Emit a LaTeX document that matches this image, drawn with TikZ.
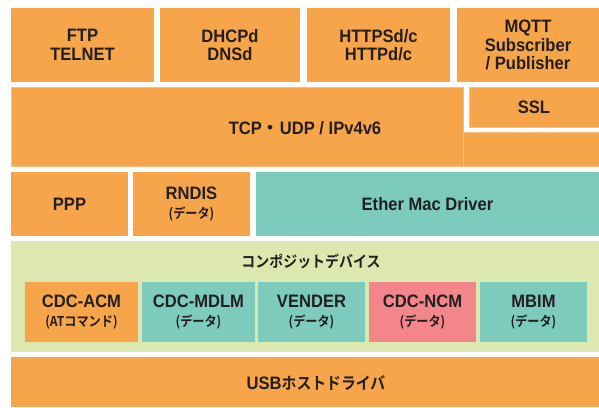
\documentclass[tikz,border=0pt]{standalone}
\usepackage{fontspec}
\setmainfont{Liberation Sans}[FakeStretch=0.92]
\newfontfamily\jp{Noto Sans CJK JP}[BoldFont={Noto Sans CJK JP Bold}]
\newfontfamily\jpn{Noto Sans CJK JP}[BoldFont={Noto Sans CJK JP Bold},FakeStretch=0.9]
\definecolor{orng}{HTML}{F7A54B}
\definecolor{orngl}{HTML}{F9BE80}
\definecolor{tealc}{HTML}{7DCBBD}
\definecolor{greenbg}{HTML}{DDE8B1}
\definecolor{pinkc}{HTML}{F3868A}
\definecolor{ink}{HTML}{231F20}
\newcommand{\sub}[1]{{\jpn\bfseries\fontsize{13.5}{15}\selectfont #1}}
\tikzset{
  box/.style={anchor=north west, inner sep=0pt, outer sep=0pt, align=center,
    text=ink, font=\bfseries\fontsize{18}{18.5}\selectfont},
  ob/.style={box, fill=orng},
  tb/.style={box, fill=tealc},
  pb/.style={box, fill=pinkc},
  gb/.style={box, fill=greenbg},
  lbl/.style={inner sep=0pt, text=ink, font=\bfseries\fontsize{18}{18.5}\selectfont},
  sz/.style 2 args={minimum width=#1pt, minimum height=#2pt}
}
\begin{document}
\begin{tikzpicture}[x=1pt,y=-1pt]
\useasboundingbox (0,0) rectangle (599,407);
% top row
\node[ob, sz={143}{74}] (ftp) at (11,8) {FTP\\TELNET};
\node[ob, sz={140}{74}] (dhcp) at (160,8) {DHCPd\\DNSd};
\node[ob, sz={143}{74}] (http) at (307,8) {HTTPSd/c\\HTTPd/c};
\node[ob, sz={142}{74}] (mqtt) at (457,8) {MQTT\\Subscriber\\/ Publisher};
% TCP / SSL
\node[ob, draw=orngl, line width=0.7pt, sz={452}{79}] (tcp) at (11,87) {};
\node[ob, draw=orngl, line width=0.7pt, sz={136}{34}] (tcpx) at (463,132) {};
\node[ob, draw=orngl, line width=0.7pt, sz={130}{40}] (ssl) at (469,87) {SSL};
\node[lbl] (tcpt) at (305,128) {TCP{\jp\bfseries ・}UDP / IPv4v6};
% third row
\node[ob, sz={117}{64}] (ppp) at (11,172) {PPP};
\node[ob, sz={117}{64}] (rndis) at (133,172) {RNDIS\\\sub{(データ)}};
\node[tb, sz={343}{64}] (ether) at (256,172) {Ether Mac Driver};
% composite
\node[gb, sz={588}{111}] (comp) at (11,241) {};
\node[lbl, font=\jpn\bfseries\fontsize{15.5}{16}\selectfont] (compt) at (311,261) {コンポジットデバイス};
\node[ob, sz={113}{60}] (acm) at (25,282) {CDC-ACM\\\sub{(AT{}コマンド)}};
\node[tb, sz={113}{60}] (mdlm) at (142,282) {CDC-MDLM\\\sub{(データ)}};
\node[tb, sz={107}{60}] (vender) at (258,282) {VENDER\\\sub{(データ)}};
\node[pb, sz={107}{60}] (ncm) at (369,282) {CDC-NCM\\\sub{(データ)}};
\node[tb, sz={107}{60}] (mbim) at (480,282) {MBIM\\\sub{(データ)}};
% USB
\node[ob, sz={588}{50}] (usb) at (11,357) {};
\node[lbl] (usbt) at (316,383) {USB{\jpn\bfseries\fontsize{16.5}{18}\selectfont ホストドライバ}};
\end{tikzpicture}
\end{document}
